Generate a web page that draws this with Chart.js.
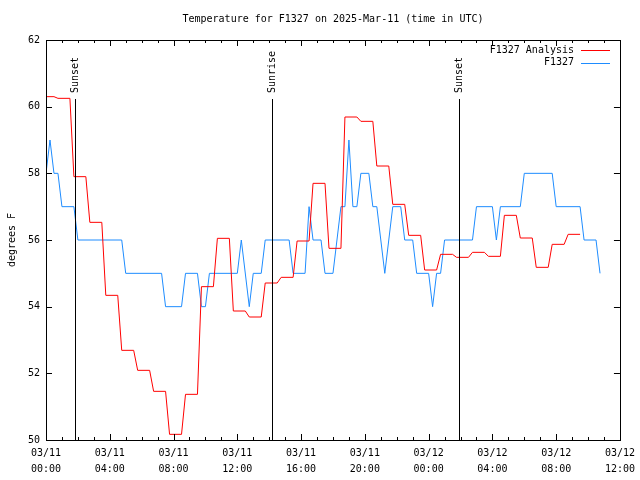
<!DOCTYPE html>
<html>
<head>
<meta charset="utf-8">
<title>F1327 temperature</title>
<script src="https://cdn.jsdelivr.net/npm/chart.js@4.4.1/dist/chart.umd.min.js"></script>
<style>
  html, body { margin: 0; padding: 0; background: #fff; }
</style>
</head>
<body>
<canvas id="temp-chart" width="640" height="480"></canvas>
<script>
// times are hours since 03/11 00:00 UTC

// hourly analysis values
var analysisHours = [0, 1, 2, 3, 4, 5, 6, 7, 8, 9, 10, 11, 12, 13, 14, 15, 16,
    17, 18, 19, 20, 21, 22, 23, 24, 25, 26, 27, 28, 29, 30, 31, 32, 33];
var analysisTemps = [60.3, 60.25, 57.9, 56.53, 54.34, 52.69, 52.09, 51.46, 50.17,
    51.37, 54.6, 56.05, 53.87, 53.69, 54.71, 54.88, 55.97, 57.7, 55.75, 59.69,
    59.56, 58.22, 57.07, 56.14, 55.1, 55.57, 55.48, 55.63, 55.51, 56.74, 56.06,
    55.18, 55.87, 56.17];

// station observations
var obsHours = [0, 0.25, 0.5, 0.75, 1, 1.75, 2, 4.75, 5, 7.25, 7.5, 8.5, 8.75,
    9.5, 9.75, 10, 10.25, 12, 12.25, 12.75, 13, 13.5, 13.75, 15.25, 15.5, 16.25,
    16.5, 16.75, 17.25, 17.5, 18, 18.5, 18.75, 19, 19.25, 19.5, 19.75, 20.25,
    20.5, 20.75, 21.25, 21.75, 22.25, 22.5, 23, 23.25, 24, 24.25, 24.5, 24.75,
    25, 26.75, 27, 28, 28.25, 28.5, 29.75, 30, 31.75, 32, 33.5, 33.75, 34.5, 34.75];
var obsTemps = [58, 59, 58, 58, 57, 57, 56, 56, 55, 55, 54, 54, 55,
    55, 54, 54, 55, 55, 56, 54, 55, 55, 56, 56, 55, 55,
    57, 56, 56, 55, 55, 57, 57, 59, 57, 57, 58, 58,
    57, 57, 55, 57, 57, 56, 56, 55, 55, 54, 55, 55,
    56, 56, 57, 57, 56, 57, 57, 58, 58, 57, 57, 56, 56, 55];

var eventHours = [1.82, 14.17, 25.88];
var eventLabels = ["Sunset", "Sunrise", "Sunset"];

var xTickLabels = [["03/11", "00:00"], ["03/11", "04:00"], ["03/11", "08:00"],
    ["03/11", "12:00"], ["03/11", "16:00"], ["03/11", "20:00"], ["03/12", "00:00"],
    ["03/12", "04:00"], ["03/12", "08:00"], ["03/12", "12:00"]];

var chartTitle = "Temperature for F1327 on 2025-Mar-11 (time in UTC)";
var FONT = "DejaVu Sans Mono";

// each analysis value holds from h-0.25 to h+0.5, then ramps to the next one
function stepPoints(hours, temps) {
    var pts = [];
    hours.forEach(function (h, i) {
        pts.push({ x: Math.max(h - 0.25, 0), y: temps[i] });
        pts.push({ x: h + 0.5, y: temps[i] });
    });
    return pts;
}

function xyPoints(hours, temps) {
    return hours.map(function (h, i) { return { x: h, y: temps[i] }; });
}

// frame, inward tics, sun events, legend and title (gnuplot look)
var framePlugin = {
    id: "frame",
    afterDatasetsDraw: function (chart) {
        var c = chart.ctx, a = chart.chartArea;
        var xs = chart.scales.x, ys = chart.scales.y;
        c.save();
        c.strokeStyle = "#000";
        c.lineWidth = 1;

        // sun events
        c.fillStyle = "#000";
        c.font = "10px '" + FONT + "'";
        eventHours.forEach(function (h, i) {
            var px = Math.round(xs.getPixelForValue(h)) + 0.5;
            c.beginPath();
            c.moveTo(px, 99);
            c.lineTo(px, a.bottom);
            c.stroke();
            c.save();
            c.translate(px, 93);
            c.rotate(-Math.PI / 2);
            c.textAlign = "left";
            c.textBaseline = "middle";
            c.fillText(eventLabels[i], 0, 0);
            c.restore();
        });

        // border
        c.strokeRect(Math.round(a.left) + 0.5, Math.round(a.top) + 0.5,
            Math.round(a.right - a.left), Math.round(a.bottom - a.top));

        // x tics, every hour, longer every 4
        c.beginPath();
        for (var h = 0; h <= 36; h++) {
            var px = Math.round(xs.getPixelForValue(h)) + 0.5;
            var len = h % 4 === 0 ? 6 : 3;
            c.moveTo(px, a.bottom); c.lineTo(px, a.bottom - len);
            c.moveTo(px, a.top); c.lineTo(px, a.top + len);
        }
        ys.ticks.forEach(function (t) {
            var py = Math.round(ys.getPixelForValue(t.value)) + 0.5;
            c.moveTo(a.left, py); c.lineTo(a.left + 6, py);
            c.moveTo(a.right, py); c.lineTo(a.right - 6, py);
        });
        c.stroke();

        // legend
        c.textAlign = "right";
        c.textBaseline = "middle";
        chart.data.datasets.forEach(function (ds, i) {
            var py = 50 + i * 12.5;
            c.fillStyle = "#000";
            c.fillText(ds.label, 574, py);
            c.strokeStyle = ds.borderColor;
            c.beginPath();
            c.moveTo(581, Math.round(py) + 0.5);
            c.lineTo(610, Math.round(py) + 0.5);
            c.stroke();
        });

        // title
        c.fillStyle = "#000";
        c.textAlign = "center";
        c.fillText(chartTitle, (a.left + a.right) / 2, 19.5);
        c.restore();
    }
};

var ctx = document.getElementById("temp-chart");

var chartData = {
    datasets: [{
        label: "F1327 Analysis",
        data: stepPoints(analysisHours, analysisTemps),
        borderColor: "#ff0000",
        borderWidth: 1,
        pointRadius: 0,
        tension: 0,
        fill: false
    }, {
        label: "F1327",
        data: xyPoints(obsHours, obsTemps),
        borderColor: "#1e8cff",
        borderWidth: 1,
        pointRadius: 0,
        tension: 0,
        fill: false
    }]
};

var tickFont = { family: FONT, size: 10, lineHeight: 1.6 };

var chartOptions = {
    responsive: false,
    animation: false,
    layout: { padding: { top: 40, right: 17, bottom: 0, left: 0 } },
    plugins: {
        legend: { display: false },
        tooltip: { enabled: false },
        title: { display: false }
    },
    scales: {
        x: {
            type: "linear",
            min: 0,
            max: 36,
            grid: { display: false, drawTicks: false },
            border: { display: false },
            ticks: {
                stepSize: 4,
                autoSkip: false,
                maxRotation: 0,
                padding: 5,
                color: "#000",
                font: tickFont,
                callback: function (v) { return xTickLabels[v / 4]; }
            },
            afterFit: function (s) { s.height = 40; }
        },
        y: {
            min: 50,
            max: 62,
            grid: { display: false, drawTicks: false },
            border: { display: false },
            ticks: {
                stepSize: 2,
                padding: 6,
                color: "#000",
                font: { family: FONT, size: 10 }
            },
            title: {
                display: true,
                text: "degrees F",
                color: "#000",
                font: { family: FONT, size: 10, lineHeight: 1.2 },
                padding: { top: 6, bottom: 0 }
            },
            afterFit: function (s) { s.width = 46; }
        }
    }
};

var tempChart = new Chart(ctx, {
    type: "line",
    data: chartData,
    options: chartOptions,
    plugins: [framePlugin]
});
</script>
</body>
</html>
